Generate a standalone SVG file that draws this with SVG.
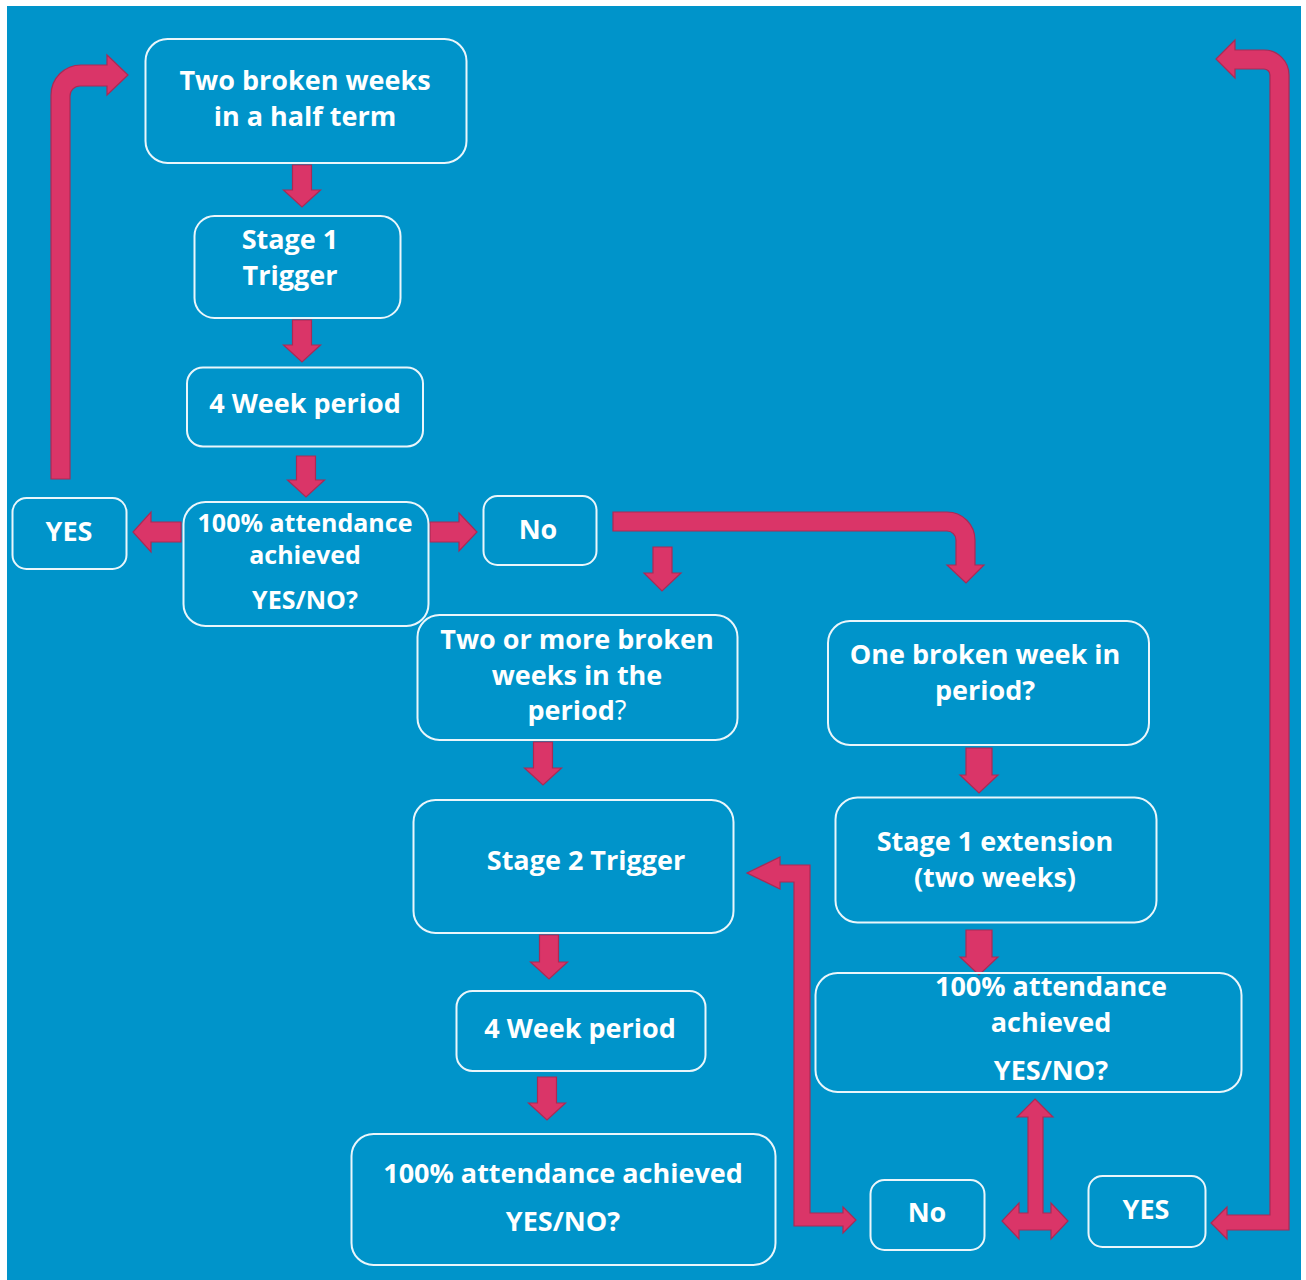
<svg xmlns="http://www.w3.org/2000/svg" width="1306" height="1280" viewBox="0 0 1306 1280">
<style>
.box{fill:none;stroke:#eaf6fb;stroke-width:2}
.t{font-family:"Open Sans","Liberation Sans",sans-serif;font-weight:700;font-size:27px;fill:#ffffff;text-anchor:middle}
.s{font-size:25px}
.q{font-weight:400}
.arr{fill:#da3568;stroke:#a92a55;stroke-width:1.2;stroke-linejoin:miter}
</style>
<rect x="0" y="0" width="1306" height="1280" fill="#ffffff"/>
<rect x="7" y="6" width="1294" height="1274" fill="#0094ca"/>

<g id="connectors">
<polygon class="arr" points="292.5,165 311.5,165 311.5,190 320.5,190 302,207 283.5,190 292.5,190"/>
<polygon class="arr" points="292.5,320 311.5,320 311.5,345 320.5,345 302,362 283.5,345 292.5,345"/>
<polygon class="arr" points="296.5,456 315.5,456 315.5,480 324.5,480 306,497 287.5,480 296.5,480"/>
<polygon class="arr" points="181,522 181,542 151,542 151,552 133,532 151,512 151,522"/>
<polygon class="arr" points="430,522 430,542 459,542 459,551 477,532 459,513 459,522"/>
<polygon class="arr" points="653,547 672,547 672,573 681,573 662,591 644,573 653,573"/>
<polygon class="arr" points="533.5,742 552.5,742 552.5,768 561.5,768 543,785 524.5,768 533.5,768"/>
<polygon class="arr" points="539.5,935 558.5,935 558.5,962 567.5,962 549,979 530.5,962 539.5,962"/>
<polygon class="arr" points="537.5,1077 556.5,1077 556.5,1103 565.5,1103 547,1120 528.5,1103 537.5,1103"/>
<polygon class="arr" points="966,748 992,748 992,775 998,775 979,793 960,775 966,775"/>
<polygon class="arr" points="966,930 992,930 992,957 998,957 979,975 960,957 966,957"/>
<path class="arr" d="M51,479 L51,95 A30,30 0 0 1 81,65 L107,65 L107,55 L128,75 L107,95 L107,86 L80,86 A10,10 0 0 0 70,96 L70,479 Z"/>
<path class="arr" d="M613,512 L947,512 A28,28 0 0 1 975,540 L975,565 L984,565 L966,583 L947,565 L956,565 L956,540 A9,9 0 0 0 947,531 L613,531 Z"/>
<path class="arr" d="M1289,1230 L1289,75 A25,25 0 0 0 1264,50 L1235,50 L1235,40 L1216,59 L1235,78 L1235,69 L1264,69 A6,6 0 0 1 1270,75 L1270,1215 L1227,1215 L1227,1207 L1211,1223 L1227,1239 L1227,1230 Z"/>
<polygon class="arr" points="747,873 780,857 780,865 810,865 810,1213 843,1213 843,1207 856,1220 843,1233 843,1226 794,1226 794,882 780,882 780,889"/>
<polygon class="arr" points="1035,1099 1053,1117 1043,1117 1043,1213 1051,1213 1051,1203 1068,1221 1051,1239 1051,1230 1019,1230 1019,1239 1002,1221 1019,1203 1019,1213 1028,1213 1028,1117 1017,1117"/>
</g>

<g id="n1"><rect class="box" x="145.5" y="39" width="321" height="124" rx="22"/>
<text class="t" x="305" y="90">Two broken weeks</text><text class="t" x="305" y="126">in a half term</text></g>
<g id="n2"><rect class="box" x="194.5" y="216" width="206" height="102" rx="20"/>
<text class="t" x="290" y="249">Stage 1</text><text class="t" x="290" y="285">Trigger</text></g>
<g id="n3"><rect class="box" x="187" y="367.5" width="236" height="79" rx="16"/>
<text class="t" x="305" y="413">4 Week period</text></g>
<g id="n4"><rect class="box" x="183.5" y="502" width="245" height="124" rx="22"/>
<text class="t s" x="305" y="532">100% attendance</text><text class="t s" x="305" y="564">achieved</text><text class="t s" x="305" y="609">YES/NO?</text></g>
<g id="n5"><rect class="box" x="12.5" y="498" width="114" height="71" rx="14"/>
<text class="t" x="69" y="541">YES</text></g>
<g id="n6"><rect class="box" x="483.5" y="496" width="113" height="69" rx="14"/>
<text class="t" x="538" y="539">No</text></g>
<g id="n7"><rect class="box" x="417.5" y="615" width="320" height="125" rx="22"/>
<text class="t" x="577" y="649">Two or more broken</text><text class="t" x="577" y="685">weeks in the</text><text class="t" x="577" y="720">period<tspan class="q">?</tspan></text></g>
<g id="n8"><rect class="box" x="828" y="621" width="321" height="124" rx="22"/>
<text class="t" x="985" y="664">One broken week in</text><text class="t" x="985" y="700">period?</text></g>
<g id="n9"><rect class="box" x="835.5" y="797.5" width="321" height="125" rx="22"/>
<text class="t" x="995" y="851">Stage 1 extension</text><text class="t" x="995" y="887">(two weeks)</text></g>
<g id="n10"><rect class="box" x="815.5" y="973" width="426" height="119" rx="22"/>
<text class="t" x="1051" y="996">100% attendance</text><text class="t" x="1051" y="1032">achieved</text><text class="t" x="1051" y="1080">YES/NO?</text></g>
<g id="n11"><rect class="box" x="413.5" y="800" width="320" height="133" rx="22"/>
<text class="t" x="586" y="870">Stage 2 Trigger</text></g>
<g id="n12"><rect class="box" x="456.5" y="991" width="249" height="80" rx="16"/>
<text class="t" x="580" y="1038">4 Week period</text></g>
<g id="n13"><rect class="box" x="351.5" y="1134" width="424" height="131" rx="22"/>
<text class="t" x="563" y="1183">100% attendance achieved</text><text class="t" x="563" y="1231">YES/NO?</text></g>
<g id="n14"><rect class="box" x="870.5" y="1180" width="114" height="70" rx="14"/>
<text class="t" x="927" y="1222">No</text></g>
<g id="n15"><rect class="box" x="1088.5" y="1176" width="117" height="71" rx="14"/>
<text class="t" x="1146" y="1219">YES</text></g>
</svg>
